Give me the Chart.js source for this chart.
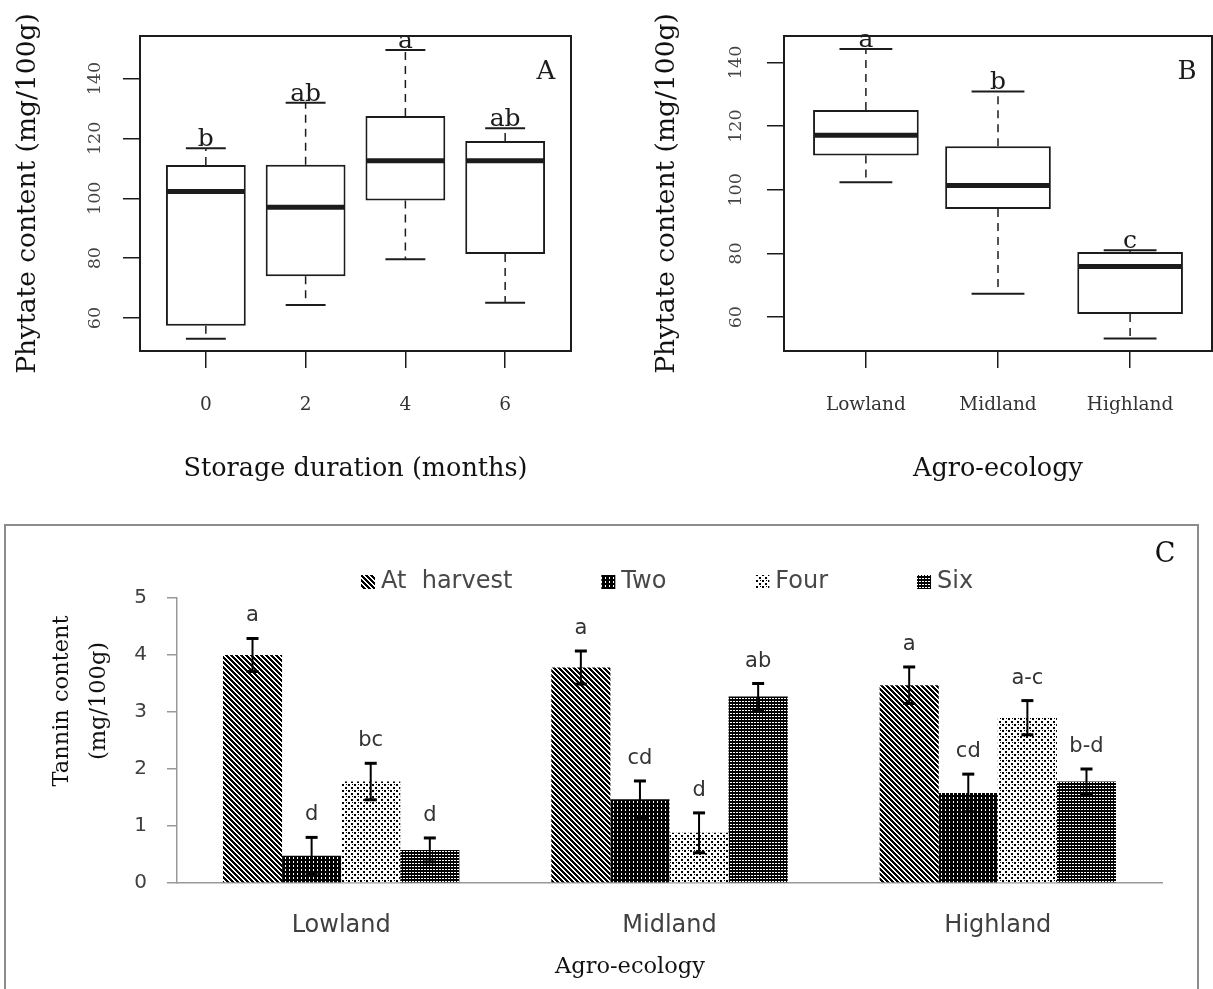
<!DOCTYPE html>
<html>
<head>
<meta charset="utf-8">
<script src="https://cdn.jsdelivr.net/npm/chart.js@4.4.1/dist/chart.umd.min.js"></script>
<style>
  body { margin: 0; background: #fff; width: 1213px; height: 989px; overflow: hidden; position: relative; }
  .panel { position: absolute; }
</style>
</head>
<body>
<div class="panel" style="left:0;top:0;width:600px;height:500px"><canvas id="chartA"></canvas></div>
<div class="panel" style="left:600px;top:0;width:613px;height:500px"><canvas id="chartB"></canvas></div>
<div class="panel" style="left:0;top:520px;width:1213px;height:469px"><canvas id="chartC"></canvas></div>
<script>
// --- Panel A: phytate vs storage duration (box plot) ---
const storageLabels = ["0", "2", "4", "6"];
const storageLow = [53.1, 64.4, 79.6, 65.1];
const storageQ1 = [57.4, 74.0, 99.3, 81.4];
const storageMedian = [102.3, 97.0, 112.5, 112.5];
const storageQ3 = [111.1, 111.2, 127.5, 119.1];
const storageHigh = [116.7, 131.9, 149.5, 123.4];
const storageLetters = ["b", "ab", "a", "ab"];

// --- Panel B: phytate vs agro-ecology (box plot) ---
const zoneLabels = ["Lowland", "Midland", "Highland"];
const zoneLow = [102.4, 67.4, 53.3];
const zoneQ1 = [110.8, 94.0, 61.0];
const zoneMedian = [117.1, 101.4, 75.9];
const zoneQ3 = [125.1, 113.7, 80.5];
const zoneHigh = [144.2, 130.9, 81.0];
const zoneLetters = ["a", "b", "c"];

const phytateTicks = [60, 80, 100, 120, 140];

// --- Panel C: tannin by agro-ecology and storage ---
const tanninZones = ["Lowland", "Midland", "Highland"];
const seriesNames = ["At  harvest", "Two", "Four", "Six"];
const tanninHarvest = [4.0, 3.78, 3.47];
const tanninTwo = [0.48, 1.47, 1.58];
const tanninFour = [1.78, 0.88, 2.90];
const tanninSix = [0.58, 3.27, 1.78];
const errHarvest = [0.29, 0.29, 0.32];
const errTwo = [0.32, 0.32, 0.33];
const errFour = [0.32, 0.35, 0.30];
const errSix = [0.21, 0.23, 0.22];
const lettersHarvest = ["a", "a", "a"];
const lettersTwo = ["d", "cd", "cd"];
const lettersFour = ["bc", "d", "a-c"];
const lettersSix = ["d", "ab", "b-d"];
const tanninTicks = [0, 1, 2, 3, 4, 5];

const ink = "#1c1c1c";
const serif = '"DejaVu Serif", "Liberation Serif", serif';
const sans = '"DejaVu Sans", "Liberation Sans", sans-serif';

function drawLine(ctx, x1, y1, x2, y2) {
  ctx.beginPath();
  ctx.moveTo(x1, y1);
  ctx.lineTo(x2, y2);
  ctx.stroke();
}

// R-style box plot on top of floating bars
function boxPlot(id, o) {
  const n = o.labels.length;
  const boxExtras = {
    id: "boxExtras",
    afterDatasetsDraw(chart) {
      const { ctx, chartArea: a, scales: { x, y } } = chart;
      const boxes = chart.getDatasetMeta(0).data;
      ctx.save();
      ctx.strokeStyle = ink;
      ctx.fillStyle = ink;
      ctx.textAlign = "center";

      o.labels.forEach((_, i) => {
        const cx = x.getPixelForValue(i);
        const half = boxes[i].width / 2;
        const cap = half / 2;
        const yLow = y.getPixelForValue(o.low[i]);
        const yQ1 = y.getPixelForValue(o.q1[i]);
        const yMed = y.getPixelForValue(o.median[i]);
        const yQ3 = y.getPixelForValue(o.q3[i]);
        const yHigh = y.getPixelForValue(o.high[i]);

        // whiskers
        ctx.lineWidth = 1.5;
        ctx.setLineDash([8, 6]);
        drawLine(ctx, cx, yQ3, cx, yHigh);
        drawLine(ctx, cx, yQ1, cx, yLow);
        ctx.setLineDash([]);
        ctx.lineWidth = 2;
        drawLine(ctx, cx - cap, yHigh, cx + cap, yHigh);
        drawLine(ctx, cx - cap, yLow, cx + cap, yLow);

        // median
        ctx.lineWidth = 5;
        drawLine(ctx, cx - half + 1, yMed, cx + half - 1, yMed);

        // significance letter
        ctx.font = `25px ${serif}`;
        ctx.textBaseline = "alphabetic";
        ctx.fillText(o.letters[i], cx, yHigh - 2);
      });

      // plot frame
      ctx.lineWidth = 2;
      ctx.strokeRect(a.left, a.top, a.right - a.left, a.bottom - a.top);

      // rotated y tick labels
      ctx.fillStyle = "#444";
      ctx.font = `17.5px ${serif}`;
      ctx.textBaseline = "middle";
      phytateTicks.forEach(v => {
        ctx.save();
        ctx.translate(a.left - o.tickGap, y.getPixelForValue(v));
        ctx.rotate(-Math.PI / 2);
        ctx.fillText(String(v), 0, 0);
        ctx.restore();
      });

      // panel tag
      ctx.fillStyle = ink;
      ctx.font = `26px ${serif}`;
      ctx.fillText(o.tag, a.right - 25, a.top + 36);
      ctx.restore();
    }
  };

  return new Chart(document.getElementById(id), {
    type: "bar",
    data: {
      datasets: [{
        data: o.q1.map((q, i) => ({ x: i, y: [q, o.q3[i]] })),
        backgroundColor: "#fff",
        borderColor: ink,
        borderWidth: 2,
        borderSkipped: false,
        categoryPercentage: 1,
        barPercentage: 0.8
      }]
    },
    options: {
      responsive: true,
      maintainAspectRatio: false,
      animation: false,
      layout: { padding: { top: 36, right: o.padRight, left: 0, bottom: 0 } },
      plugins: { legend: { display: false }, tooltip: { enabled: false } },
      scales: {
        x: {
          type: "linear",
          offset: false,
          min: -0.5 - 0.04 * n,
          max: n - 0.5 + 0.04 * n,
          afterBuildTicks: s => { s.ticks = o.labels.map((_, i) => ({ value: i })); },
          afterFit: s => { s.height = 149; },
          ticks: {
            callback: (v, i) => o.labels[i],
            autoSkip: false,
            maxRotation: 0,
            padding: 26,
            color: "#333",
            font: { family: serif, size: 18.5 }
          },
          grid: { offset: false, drawOnChartArea: false, tickLength: 17, color: ink, lineWidth: 1.5 },
          border: { display: false },
          title: {
            display: true,
            text: o.xTitle,
            color: "#111",
            font: { family: serif, size: 25.5 },
            padding: { top: 0, bottom: 15 }
          }
        },
        y: {
          beginAtZero: false,
          min: o.yMin,
          max: o.yMax,
          afterBuildTicks: s => { s.ticks = phytateTicks.map(v => ({ value: v })); },
          afterFit: s => { s.width = o.yWidth; },
          ticks: { display: false },
          grid: { drawOnChartArea: false, tickLength: 17, color: ink, lineWidth: 1.5 },
          border: { display: false },
          title: {
            display: true,
            text: "Phytate content (mg/100g)",
            color: "#111",
            font: { family: serif, size: 26.5 },
            padding: { top: o.yTitlePad, bottom: 0 }
          }
        }
      }
    },
    plugins: [boxExtras]
  });
}

boxPlot("chartA", {
  labels: storageLabels, low: storageLow, q1: storageQ1, median: storageMedian,
  q3: storageQ3, high: storageHigh, letters: storageLetters,
  yMin: 49.0, yMax: 154.2, yWidth: 140, padRight: 29, yTitlePad: 12, tickGap: 45,
  xTitle: "Storage duration (months)", tag: "A"
});

boxPlot("chartB", {
  labels: zoneLabels, low: zoneLow, q1: zoneQ1, median: zoneMedian,
  q3: zoneQ3, high: zoneHigh, letters: zoneLetters,
  yMin: 49.4, yMax: 148.3, yWidth: 184, padRight: 1, yTitlePad: 51.5, tickGap: 48,
  xTitle: "Agro-ecology", tag: "B"
});

// --- fill patterns for panel C ---
function makePattern(size, paint) {
  const c = document.createElement("canvas");
  c.width = c.height = size;
  const g = c.getContext("2d");
  paint(g, size);
  return g.createPattern(c, "repeat");
}

const hatchHarvest = makePattern(5, (g, s) => {
  g.fillStyle = "#fff"; g.fillRect(0, 0, s, s);
  g.fillStyle = "#000";
  for (let i = 0; i < s; i++) {
    g.fillRect(i, i, 1, 1);
    g.fillRect((i + 1) % s, i, 1, 1);
    g.fillRect((i + 2) % s, i, 1, 1);
  }
});
const hatchTwo = makePattern(4, (g, s) => {
  g.fillStyle = "#000"; g.fillRect(0, 0, s, s);
  g.fillStyle = "#fff"; g.fillRect(1, 1, 1, 2);
});
const hatchFour = makePattern(6, (g, s) => {
  g.fillStyle = "#fff"; g.fillRect(0, 0, s, s);
  g.fillStyle = "#000";
  g.fillRect(0, 0, 2, 2);
  g.fillRect(3, 3, 2, 2);
  g.fillRect(4, 0, 1, 1);
});
const hatchSix = makePattern(3, (g, s) => {
  g.fillStyle = "#000"; g.fillRect(0, 0, s, s);
  g.fillStyle = "#fff"; g.fillRect(1, 1, 1, 1); g.fillRect(2, 1, 1, 1);
});

const tanninExtras = {
  id: "tanninExtras",
  beforeDraw(chart) {
    const { ctx } = chart;
    ctx.save();
    ctx.strokeStyle = "#8c8c8c";
    ctx.lineWidth = 2;
    ctx.strokeRect(5, 5, 1193, 520);
    ctx.restore();
  },
  afterDatasetsDraw(chart) {
    const { ctx, scales: { y } } = chart;
    ctx.save();

    // error bars and letters
    chart.data.datasets.forEach((ds, d) => {
      chart.getDatasetMeta(d).data.forEach((bar, i) => {
        const top = y.getPixelForValue(ds.data[i] + ds.errors[i]);
        const bottom = y.getPixelForValue(ds.data[i] - ds.errors[i]);
        ctx.strokeStyle = "#000";
        ctx.lineWidth = 2;
        drawLine(ctx, bar.x, top, bar.x, bottom);
        ctx.lineWidth = 3;
        drawLine(ctx, bar.x - 6, top, bar.x + 6, top);
        drawLine(ctx, bar.x - 6, bottom, bar.x + 6, bottom);
        ctx.fillStyle = "#333";
        ctx.font = `21px ${sans}`;
        ctx.textAlign = "center";
        ctx.textBaseline = "alphabetic";
        ctx.fillText(ds.letters[i], bar.x, top - 17);
      });
    });

    // legend
    let lx = 361;
    ctx.font = `24px ${sans}`;
    ctx.textAlign = "left";
    ctx.textBaseline = "middle";
    chart.data.datasets.forEach(ds => {
      ctx.fillStyle = ds.backgroundColor;
      ctx.fillRect(lx, 62 - 7, 14, 14);
      ctx.fillStyle = "#484848";
      ctx.fillText(ds.label, lx + 20, 62);
      lx += 20 + ctx.measureText(ds.label).width + 89;
    });

    // axis titles and tag
    ctx.fillStyle = "#111";
    ctx.textAlign = "center";
    ctx.font = `22.5px ${serif}`;
    ctx.fillText("Agro-ecology", 630, 447);
    [["Tannin content", 62], ["(mg/100g)", 99]].forEach(([t, tx]) => {
      ctx.save();
      ctx.translate(tx, 181);
      ctx.rotate(-Math.PI / 2);
      ctx.fillText(t, 0, 0);
      ctx.restore();
    });
    ctx.font = `27px ${serif}`;
    ctx.fillText("C", 1165, 35);
    ctx.restore();
  }
};

new Chart(document.getElementById("chartC"), {
  type: "bar",
  data: {
    labels: tanninZones,
    datasets: [
      { label: seriesNames[0], data: tanninHarvest, errors: errHarvest, letters: lettersHarvest, backgroundColor: hatchHarvest },
      { label: seriesNames[1], data: tanninTwo, errors: errTwo, letters: lettersTwo, backgroundColor: hatchTwo },
      { label: seriesNames[2], data: tanninFour, errors: errFour, letters: lettersFour, backgroundColor: hatchFour },
      { label: seriesNames[3], data: tanninSix, errors: errSix, letters: lettersSix, backgroundColor: hatchSix }
    ]
  },
  options: {
    responsive: true,
    maintainAspectRatio: false,
    animation: false,
    datasets: { bar: { categoryPercentage: 0.72, barPercentage: 1 } },
    layout: { padding: { top: 78, right: 51, left: 0, bottom: 0 } },
    plugins: { legend: { display: false }, tooltip: { enabled: false } },
    scales: {
      x: {
        afterFit: s => { s.height = 106; },
        grid: { display: false, drawTicks: false },
        border: { display: true, color: "#999", width: 1.5 },
        ticks: { padding: 28, color: "#404040", font: { family: sans, size: 24 } }
      },
      y: {
        min: 0,
        max: 5,
        afterBuildTicks: s => { s.ticks = tanninTicks.map(v => ({ value: v })); },
        afterFit: s => { s.width = 177; },
        ticks: { padding: 20, color: "#404040", font: { family: sans, size: 20 } },
        grid: { drawOnChartArea: false, tickLength: 10, color: "#999", lineWidth: 1.5 },
        border: { display: true, color: "#999", width: 1.5 }
      }
    }
  },
  plugins: [tanninExtras]
});
</script>
</body>
</html>
